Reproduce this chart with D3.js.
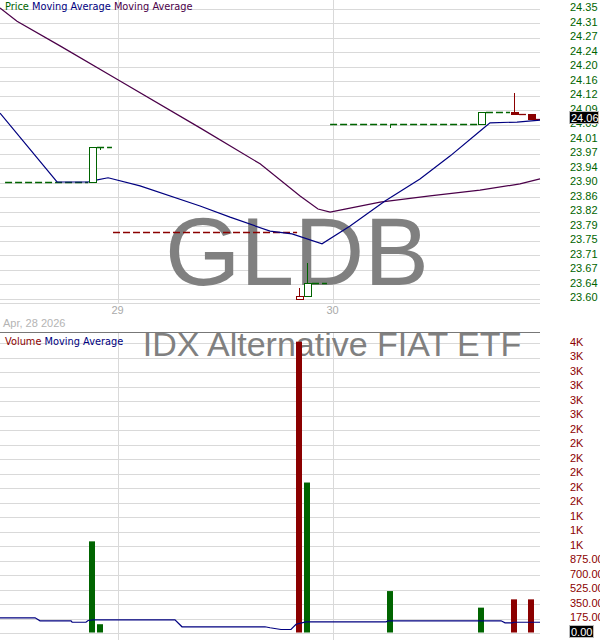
<!DOCTYPE html>
<html><head><meta charset="utf-8">
<script src="https://cdn.jsdelivr.net/npm/d3@7"></script>
<style>body{margin:0;background:#fff}svg{display:block}</style>
</head><body><svg id="c" width="600" height="640"></svg>
<script>
// ---------- data ----------
const symbol = "GLDB";
const fundName = "IDX Alternative FIAT ETF";
const dateLabel = "Apr, 28 2026";
const dayTicks = ["2026-04-29 00:00", "2026-04-30 00:00"];
const dayTickLabels = ["29", "30"];

const priceTicks = [24.35, 24.3125, 24.275, 24.2375, 24.20, 24.1625, 24.125, 24.0875, 24.05, 24.0125, 23.975, 23.9375, 23.90, 23.8625, 23.825, 23.7875, 23.75, 23.7125, 23.675, 23.6375, 23.60];
const priceTickLabels = ["24.35","24.31","24.27","24.24","24.20","24.16","24.12","24.09","24.05","24.01","23.97","23.94","23.90","23.86","23.82","23.79","23.75","23.71","23.67","23.64","23.60"];
const volumeTicks = [3500, 3325, 3150, 2975, 2800, 2625, 2450, 2275, 2100, 1925, 1750, 1575, 1400, 1225, 1050, 875, 700, 525, 350, 175, 0];
const volumeTickLabels = ["4K","3K","3K","3K","3K","3K","2K","2K","2K","2K","2K","2K","1K","1K","1K","875.00","700.00","525.00","350.00","175.00","0.00"];
const lastPriceLabel = "24.06";
const lastVolumeLabel = "0.00";

const candleTimes = ["2026-04-28 21:09","2026-04-28 22:06","2026-04-29 20:22","2026-04-29 21:13","2026-04-30 06:29","2026-04-30 16:41","2026-04-30 20:19","2026-04-30 22:10"];
const candleOpen  = [23.900, 23.990, 23.597, 23.605, 24.044, 24.050, 24.081, 24.076];
const candleHigh  = [23.990, 23.990, 23.626, 23.690, 24.047, 24.081, 24.130, 24.076];
const candleLow   = [23.900, 23.990, 23.597, 23.605, 24.040, 24.050, 24.076, 24.064];
const candleClose = [23.990, 23.990, 23.605, 23.640, 24.044, 24.081, 24.076, 24.064];
const candleVolume = [1100, 100, 3510, 1810, 500, 300, 400, 400];
const firstPrevClose = 23.90;

// idle periods drawn at the last traded price
const idleStart = ["2026-04-28 11:30","2026-04-28 21:46","2026-04-28 23:33","2026-04-29 21:46","2026-04-29 23:47","2026-04-30 17:11","2026-04-30 20:52","2026-04-30 22:46"];
const idleEnd   = ["2026-04-28 20:46","2026-04-28 23:26","2026-04-29 20:06","2026-04-29 23:26","2026-04-30 16:18","2026-04-30 19:52","2026-04-30 21:46","2026-04-30 23:13"];
const idlePrice = [23.90, 23.99, 23.77, 23.64, 24.05, 24.081, 24.076, 24.064];
const idleUp    = [true, true, false, true, true, true, false, false];

const priceMaTimes = ["2026-04-28 10:56","2026-04-28 17:18","2026-04-28 20:46","2026-04-28 21:39","2026-04-28 23:00","2026-04-29 02:34","2026-04-29 09:16","2026-04-29 12:37","2026-04-29 17:05","2026-04-29 19:32","2026-04-29 22:53","2026-04-30 02:01","2026-04-30 05:55","2026-04-30 09:49","2026-04-30 13:10","2026-04-30 16:38","2026-04-30 17:38","2026-04-30 20:39","2026-04-30 23:13"];
const priceMaValues = [24.078, 23.900, 23.900, 23.905, 23.911, 23.890, 23.838, 23.809, 23.773, 23.766, 23.740, 23.786, 23.851, 23.908, 23.967, 24.034, 24.053, 24.055, 24.060];

const longMaTimes = ["2026-04-28 10:56","2026-04-28 12:50","2026-04-28 17:38","2026-04-29 00:00","2026-04-29 09:16","2026-04-29 15:58","2026-04-29 20:26","2026-04-29 22:26","2026-04-29 23:47","2026-04-30 01:27","2026-04-30 05:22","2026-04-30 10:56","2026-04-30 16:31","2026-04-30 20:59","2026-04-30 23:13"];
const longMaValues = [24.350, 24.316, 24.252, 24.166, 24.040, 23.947, 23.864, 23.830, 23.822, 23.830, 23.848, 23.864, 23.879, 23.895, 23.908];

const volMaTimes = ["2026-04-28 10:56","2026-04-28 14:51","2026-04-28 15:24","2026-04-28 18:52","2026-04-28 18:59","2026-04-28 20:32","2026-04-28 20:46","2026-04-28 21:19","2026-04-29 06:28","2026-04-29 07:15","2026-04-29 16:31","2026-04-29 17:05","2026-04-29 18:18","2026-04-29 19:25","2026-04-29 19:59","2026-04-29 21:06","2026-04-30 06:02","2026-04-30 06:15","2026-04-30 18:52","2026-04-30 19:19","2026-04-30 20:06","2026-04-30 20:19","2026-04-30 23:13"];
const volMaValues = [177, 177, 141, 141, 124, 124, 145, 153, 153, 69, 69, 57, 36, 36, 100, 129, 129, 141, 141, 117, 117, 124, 124];

// ---------- drawing ----------
const GREEN = "#006400", RED = "#8b0000", NAVY = "#000080", PURPLE = "#4b0049", GRID = "#d9d9d9";
const parse = d3.utcParse("%Y-%m-%d %H:%M");
const svg = d3.select("#c");
const W = 540;

const x = d3.scaleUtc().domain([parse("2026-04-28 10:56"), parse("2026-04-30 23:13")]).range([0, W]);
const y = d3.scaleLinear().domain([23.60, 24.35]).range([298, 8]);
const yv = d3.scaleLinear().domain([0, 3500]).range([632.5, 342.5]);

function gridY(scale, ticks) {
  const g = svg.append("g").attr("transform", "translate(0,0.5)")
    .call(d3.axisRight(scale).tickValues(ticks).tickSize(W).tickFormat(""));
  g.select(".domain").remove();
  g.selectAll("line").attr("stroke", GRID).attr("shape-rendering", "crispEdges");
}
gridY(y, priceTicks);
gridY(yv, volumeTicks);

// vertical day gridlines
function gridX(y0, h) {
  const g = svg.append("g").attr("transform", `translate(0.5,${y0})`)
    .call(d3.axisBottom(x).tickValues(dayTicks.map(parse)).tickSize(h).tickFormat(""));
  g.select(".domain").remove();
  g.selectAll("line").attr("stroke", GRID).attr("shape-rendering", "crispEdges");
}
gridX(0, 304);
gridX(332, 308);
// price panel bottom line
svg.append("line").attr("x1", 0).attr("x2", W).attr("y1", 303.5).attr("y2", 303.5).attr("stroke", GRID);

// day labels
const dx = svg.append("g").attr("transform", "translate(0,303)")
  .call(d3.axisBottom(x).tickValues(dayTicks.map(parse)).tickSize(0).tickPadding(3)
    .tickFormat((d, i) => dayTickLabels[i]));
dx.select(".domain").remove();
dx.selectAll("text").attr("fill", "#aaaaaa").style("font", "11px 'Liberation Sans', Arial, sans-serif");

svg.append("text").attr("x", 3).attr("y", 327).text(dateLabel)
  .attr("fill", "#b4b4b4").style("font", "11px 'Liberation Sans', Arial, sans-serif");

// watermarks
svg.append("text").attr("x", 297).attr("y", 285).attr("text-anchor", "middle").text(symbol)
  .attr("fill", "#808080").style("font", "97px 'Liberation Sans', Arial, sans-serif");
svg.append("text").attr("x", 332).attr("y", 356).attr("text-anchor", "middle").text(fundName)
  .attr("fill", "#808080").style("font", "34px 'Liberation Sans', Arial, sans-serif");

// separator between panels
svg.append("line").attr("x1", 0).attr("x2", W).attr("y1", 332.5).attr("y2", 332.5).attr("stroke", "#777");

// idle dashed lines
idleStart.forEach((s, i) => {
  svg.append("line")
    .attr("x1", x(parse(s))).attr("x2", x(parse(idleEnd[i])))
    .attr("y1", Math.round(y(idlePrice[i])) + 0.5).attr("y2", Math.round(y(idlePrice[i])) + 0.5)
    .attr("stroke", idleUp[i] ? GREEN : RED).attr("stroke-width", 1.3).attr("stroke-dasharray", "7,3");
});

// moving averages
const lineGen = (sc) => d3.line().x(d => x(d[0])).y(d => sc(d[1]));
svg.append("path").datum(longMaTimes.map((t, i) => [parse(t), longMaValues[i]]))
  .attr("d", lineGen(y)).attr("fill", "none").attr("stroke", PURPLE).attr("stroke-width", 1.2);
svg.append("path").datum(priceMaTimes.map((t, i) => [parse(t), priceMaValues[i]]))
  .attr("d", lineGen(y)).attr("fill", "none").attr("stroke", NAVY).attr("stroke-width", 1.2);

// candles
candleTimes.forEach((t, i) => {
  const cx = Math.round(x(parse(t)));
  const prev = i === 0 ? firstPrevClose : candleClose[i - 1];
  const col = candleClose[i] >= prev ? GREEN : RED;
  const o = candleOpen[i], c = candleClose[i];
  const top = Math.round(y(Math.max(o, c))), bot = Math.round(y(Math.min(o, c)));
  const hy = Math.round(y(candleHigh[i])), ly = Math.round(y(candleLow[i]));
  if (c === o) {
    svg.append("line").attr("x1", cx + 0.5).attr("x2", cx + 0.5).attr("y1", hy).attr("y2", Math.max(ly, hy + 3)).attr("stroke", col);
  } else {
    if (hy < top) svg.append("line").attr("x1", cx + 0.5).attr("x2", cx + 0.5).attr("y1", hy).attr("y2", top).attr("stroke", col);
    if (ly > bot) svg.append("line").attr("x1", cx + 0.5).attr("x2", cx + 0.5).attr("y1", bot).attr("y2", ly).attr("stroke", col);
    svg.append("rect").attr("x", cx - 3 + 0.5).attr("y", top + 0.5)
      .attr("width", 7).attr("height", Math.max(1, bot - top))
      .attr("fill", c > o ? "#fff" : col).attr("stroke", col).attr("stroke-width", 1);
  }
  // volume bar
  const vy = yv(candleVolume[i]);
  svg.append("rect").attr("x", cx - 3).attr("y", vy).attr("width", 6).attr("height", yv(0) - vy)
    .attr("fill", col);
});

// volume moving average
svg.append("path").datum(volMaTimes.map((t, i) => [parse(t), volMaValues[i]]))
  .attr("d", lineGen(yv)).attr("fill", "none").attr("stroke", NAVY).attr("stroke-width", 1.2);

// right axes labels
function labels(scale, ticks, lbls, color) {
  const g = svg.append("g").attr("transform", "translate(570,-1)")
    .call(d3.axisRight(scale).tickValues(ticks).tickSize(0).tickPadding(0).tickFormat((d, i) => lbls[i]));
  g.select(".domain").remove();
  g.selectAll("text").attr("fill", color).style("font", "11px 'Liberation Sans', Arial, sans-serif");
}
labels(y, priceTicks, priceTickLabels, GREEN);
labels(yv, volumeTicks, volumeTickLabels, RED);

// last value boxes
function box(yy, txt, w) {
  svg.append("rect").attr("x", 569.5).attr("y", Math.round(yy) - 6.5).attr("width", w).attr("height", 12)
    .attr("fill", "#000").attr("stroke", "#bbb");
  svg.append("text").attr("x", 571).attr("y", Math.round(yy) + 4).text(txt).attr("fill", "#fff")
    .style("font", "11px 'Liberation Sans', Arial, sans-serif");
}
box(y(candleClose[candleClose.length - 1]) - 1, lastPriceLabel, 29);
box(yv(0) - 1, lastVolumeLabel, 24);

// legends
const lf = "9.8px 'DejaVu Sans', Verdana, sans-serif";
const l1 = svg.append("text").attr("x", 5).attr("y", 10).style("font", lf);
l1.append("tspan").attr("fill", GREEN).text("Price ");
l1.append("tspan").attr("fill", NAVY).text("Moving Average ");
l1.append("tspan").attr("fill", PURPLE).text("Moving Average");
const l2 = svg.append("text").attr("x", 5).attr("y", 345).style("font", lf);
l2.append("tspan").attr("fill", RED).text("Volume ");
l2.append("tspan").attr("fill", NAVY).text("Moving Average");
</script></body></html>
